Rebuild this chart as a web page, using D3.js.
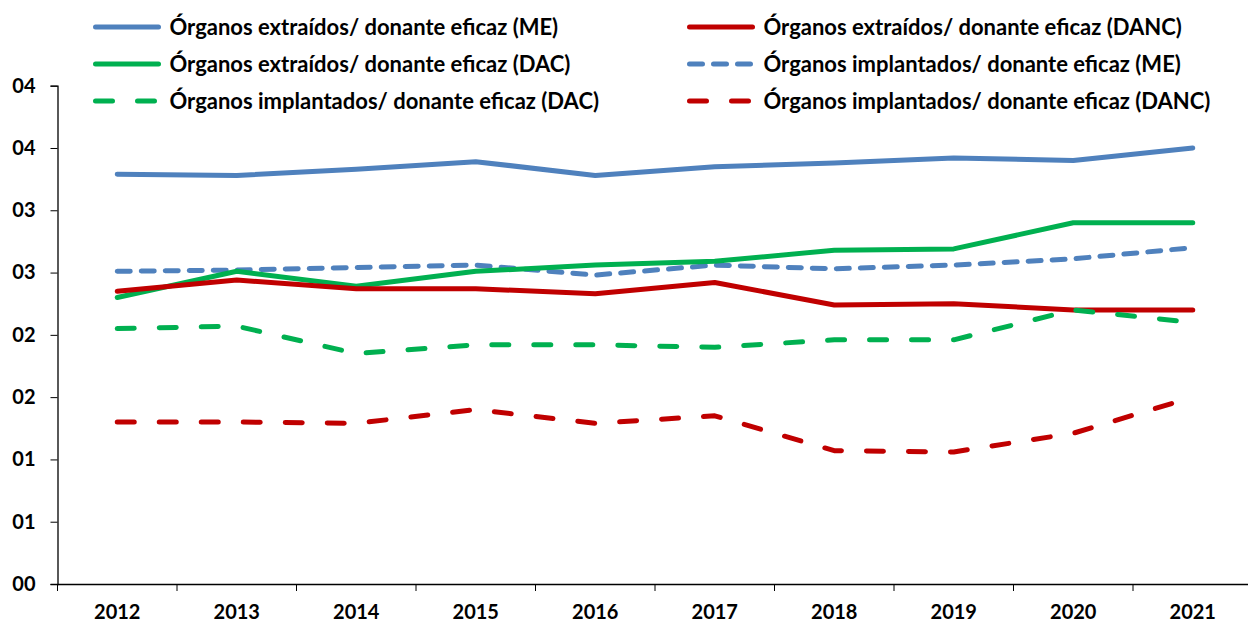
<!DOCTYPE html>
<html>
<head>
<meta charset="utf-8">
<script src="https://cdn.jsdelivr.net/npm/d3@7"></script>
<style>
  body { margin: 0; background: #fff; }
  text { font-family: Lato, "Open Sans", sans-serif; font-weight: bold; fill: #000; }
</style>
</head>
<body>
<script>
// data
var years = ["2012", "2013", "2014", "2015", "2016", "2017", "2018", "2019", "2020", "2021"];

var extraidosME   = [3.29, 3.28, 3.33, 3.39, 3.28, 3.35, 3.38, 3.42, 3.40, 3.50];
var extraidosDANC = [2.35, 2.44, 2.37, 2.37, 2.33, 2.42, 2.24, 2.25, 2.20, 2.20];
var extraidosDAC  = [2.30, 2.51, 2.39, 2.51, 2.56, 2.59, 2.68, 2.69, 2.90, 2.90];
var implantadosME   = [2.51, 2.52, 2.54, 2.56, 2.48, 2.56, 2.53, 2.56, 2.61, 2.70];
var implantadosDAC  = [2.05, 2.07, 1.85, 1.92, 1.92, 1.90, 1.96, 1.96, 2.20, 2.10];
var implantadosDANC = [1.30, 1.30, 1.29, 1.40, 1.29, 1.35, 1.07, 1.06, 1.21, 1.50];

var yTicks = [0, 0.5, 1, 1.5, 2, 2.5, 3, 3.5, 4];
var yTickLabels = ["00", "01", "01", "02", "02", "03", "03", "04", "04"];

var series = [
    {name: "Órganos extraídos/ donante eficaz (ME)", values: extraidosME, color: "#4F81BD", dash: null},
    {name: "Órganos extraídos/ donante eficaz (DANC)", values: extraidosDANC, color: "#C00000", dash: null},
    {name: "Órganos extraídos/ donante eficaz (DAC)", values: extraidosDAC, color: "#00B050", dash: null},
    {name: "Órganos implantados/ donante eficaz (ME)", values: implantadosME, color: "#4F81BD", dash: "13,11"},
    {name: "Órganos implantados/ donante eficaz (DAC)", values: implantadosDAC, color: "#00B050", dash: "17,25"},
    {name: "Órganos implantados/ donante eficaz (DANC)", values: implantadosDANC, color: "#C00000", dash: "17,25"}
];

var width = 1248, height = 625;
var left = 57.5, bottom = 584;

var svg = d3.select("body").append("svg")
    .attr("width", width)
    .attr("height", height);

var x = d3.scaleBand()
    .domain(years)
    .range([left, left + 10 * 119.5]);

var y = d3.scaleLinear()
    .domain([0, 4])
    .range([bottom, 85.7]);

// y axis
var yAxis = svg.append("g")
    .attr("transform", "translate(" + left + ",0)")
    .call(d3.axisLeft(y)
        .tickValues(yTicks)
        .tickSize(7)
        .tickPadding(15)
        .tickFormat(function(d, i) { return yTickLabels[i]; }));

// x axis, ticks at category boundaries
var xAxis = svg.append("g")
    .attr("transform", "translate(0," + bottom + ")")
    .call(d3.axisBottom(x).tickSize(0).tickPadding(21));

xAxis.selectAll(".boundary")
    .data(years.concat(["end"]))
    .enter()
    .append("line")
        .attr("class", "boundary")
        .attr("x1", function(d, i) { return left + i * x.step(); })
        .attr("x2", function(d, i) { return left + i * x.step(); })
        .attr("y1", 0)
        .attr("y2", 7)
        .attr("stroke", "#000");

svg.selectAll(".domain").attr("stroke", "#000").attr("stroke-width", 1.3);
svg.selectAll(".tick line").attr("stroke", "#000");
svg.selectAll(".tick text").style("font-size", "20px").style("font-family", "Lato, sans-serif").style("font-weight", "bold");

// lines
var line = d3.line()
    .x(function(d, i) { return x(years[i]) + x.bandwidth() / 2; })
    .y(function(d) { return y(d); });

var order = [0, 3, 2, 1, 4, 5];
order.forEach(function(k) {
    var s = series[k];
    svg.append("path")
        .attr("d", line(s.values))
        .attr("fill", "none")
        .attr("stroke", s.color)
        .attr("stroke-width", 5)
        .attr("stroke-linecap", "round")
        .attr("stroke-linejoin", "round")
        .attr("stroke-dasharray", s.dash);
});

// legend, two columns
var legendCols = [95.5, 689.5];
var legendRows = [27, 64, 101];

var legend = svg.selectAll(".legend")
    .data(series)
    .enter()
    .append("g")
        .attr("class", "legend")
        .attr("transform", function(d, i) {
            return "translate(" + legendCols[i % 2] + "," + legendRows[Math.floor(i / 2)] + ")";
        });

legend.append("line")
    .attr("x1", 0)
    .attr("x2", 63)
    .attr("stroke", function(d) { return d.color; })
    .attr("stroke-width", 5)
    .attr("stroke-linecap", "round")
    .attr("stroke-dasharray", function(d) { return d.dash; });

legend.append("text")
    .attr("x", 74)
    .attr("dy", "0.36em")
    .style("font-size", "22px")
    .text(function(d) { return d.name; });
</script>
</body>
</html>
